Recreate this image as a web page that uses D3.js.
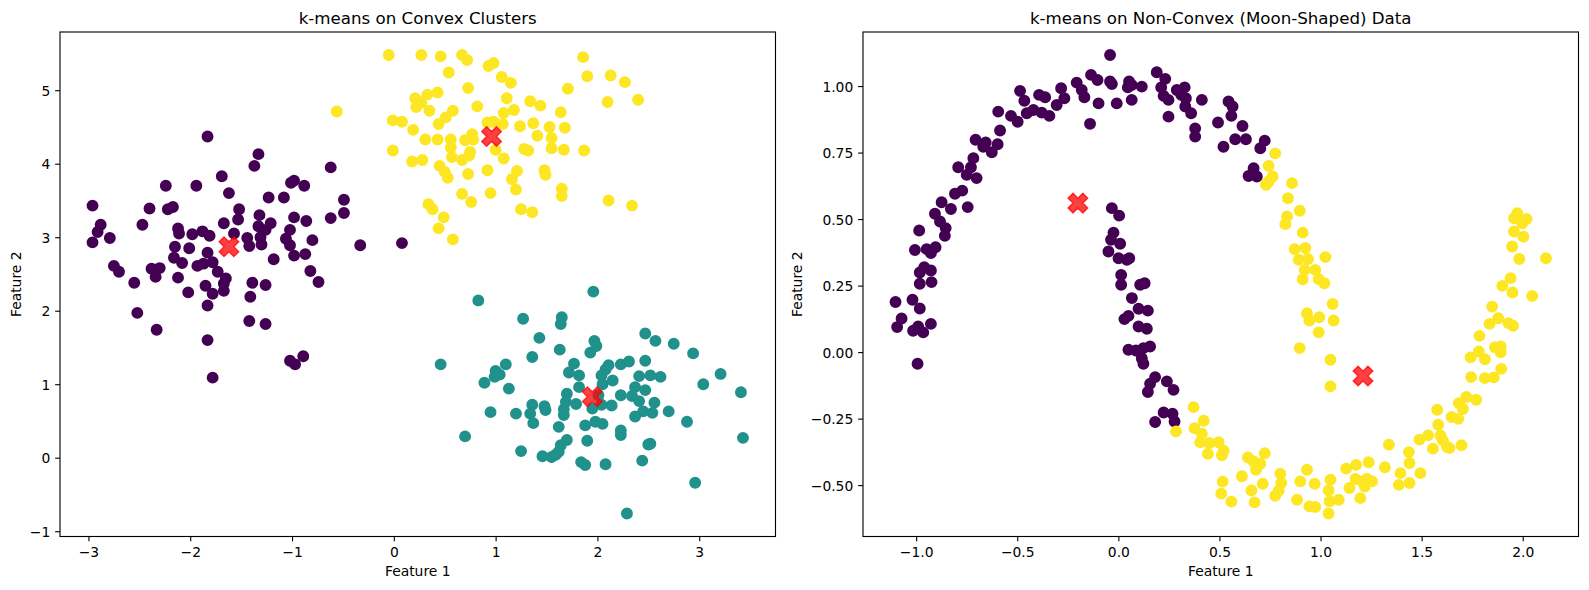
<!DOCTYPE html>
<html>
<head>
<meta charset="utf-8">
<script src="https://cdn.jsdelivr.net/npm/d3@7"></script>
<style>
  body { margin: 0; background: #fff; }
  svg { font-family: "DejaVu Sans", sans-serif; display: block; }
</style>
</head>
<body>
<div id="chart"></div>
<script>
// ---- left panel: three blobs (x, y) ----
const blobPurple = [
  [-1.83,4.37],[-1.33,4.13],[-1.37,3.97],[-0.62,3.95],[-1.69,3.83],[-2.24,3.70],[-1.94,3.70],[-0.98,3.77],
  [-1.01,3.74],[-0.88,3.70],[-1.62,3.60],[-1.23,3.54],[-1.08,3.54],[-2.96,3.43],[-2.40,3.39],[-2.22,3.38],
  [-2.17,3.41],[-0.49,3.51],[-1.52,3.38],[-1.32,3.30],[-1.53,3.24],[-0.98,3.27],[-0.86,3.22],[-0.62,3.26],
  [-0.49,3.33],[-2.88,3.17],[-2.91,3.07],[-2.47,3.17],[-2.12,3.12],[-2.11,3.05],[-1.67,3.19],[-1.21,3.19],
  [-1.33,3.15],[-1.26,3.10],[-1.02,3.10],[-2.79,2.99],[-2.96,2.93],[-1.98,3.04],[-1.88,3.08],[-1.81,3.02],
  [-1.57,3.05],[-1.44,2.99],[-1.31,3.00],[-1.06,2.98],[-0.80,2.96],[-0.33,2.89],[-2.15,2.87],[-2.01,2.85],
  [-1.83,2.79],[-1.42,2.88],[-1.30,2.90],[-1.02,2.89],[-0.98,2.75],[-0.87,2.77],[-2.16,2.72],[-2.08,2.65],
  [-1.93,2.61],[-1.87,2.64],[-1.78,2.66],[-1.18,2.70],[-2.75,2.61],[-2.70,2.53],[-2.38,2.57],[-2.30,2.58],
  [-2.34,2.46],[-2.12,2.45],[-1.73,2.53],[-1.65,2.44],[-0.82,2.54],[-2.55,2.38],[-1.85,2.34],[-1.67,2.37],
  [-1.39,2.38],[-1.26,2.35],[-0.74,2.39],[-2.02,2.25],[-1.78,2.23],[-1.67,2.27],[-1.41,2.19],[-1.83,2.07],
  [-2.52,1.97],[-1.42,1.86],[-1.26,1.82],[-2.33,1.74],[-1.83,1.60],[-1.02,1.32],[-0.97,1.27],[-0.89,1.38],
  [-1.78,1.09],[0.08,2.92]
];
const blobTeal = [
  [1.96,2.26],[0.83,2.14],[1.27,1.89],[1.65,1.91],[1.64,1.82],[1.43,1.63],[1.97,1.59],[1.99,1.52],
  [1.93,1.43],[2.47,1.69],[2.57,1.59],[2.75,1.55],[2.94,1.42],[1.63,1.47],[1.36,1.37],[0.46,1.27],
  [1.10,1.27],[1.00,1.18],[1.04,1.13],[0.99,1.10],[0.89,1.02],[1.13,0.94],[1.77,1.28],[1.72,1.16],
  [1.82,1.12],[2.11,1.26],[2.08,1.20],[2.04,1.12],[2.23,1.27],[2.31,1.31],[2.47,1.32],[2.41,1.11],
  [2.52,1.12],[2.62,1.10],[3.21,1.14],[3.04,1.00],[2.15,1.05],[2.05,1.00],[1.82,0.96],[2.37,0.96],
  [2.47,0.92],[1.70,0.87],[2.23,0.85],[2.34,0.84],[2.41,0.77],[2.56,0.75],[2.01,0.85],[1.69,0.76],
  [1.79,0.73],[2.14,0.71],[2.04,0.72],[1.95,0.67],[1.36,0.72],[1.48,0.70],[1.49,0.65],[1.67,0.66],
  [1.67,0.58],[0.95,0.62],[1.20,0.60],[1.34,0.60],[1.37,0.47],[2.45,0.63],[2.54,0.61],[2.37,0.56],
  [2.70,0.63],[2.88,0.49],[1.62,0.42],[1.88,0.44],[1.98,0.49],[2.05,0.46],[2.23,0.37],[2.23,0.31],
  [0.70,0.29],[1.70,0.24],[1.64,0.17],[1.90,0.23],[2.52,0.19],[2.50,0.18],[1.25,0.09],[1.46,0.02],
  [1.59,0.04],[1.55,0.01],[1.62,0.08],[1.84,-0.06],[1.88,-0.10],[2.08,-0.09],[2.44,-0.04],[2.96,-0.34],
  [2.29,-0.76],[3.41,0.89],[3.43,0.27]
];
const blobYellow = [
  [-0.05,5.48],[0.27,5.48],[0.46,5.46],[0.67,5.48],[0.72,5.41],[0.93,5.33],[0.98,5.37],[1.86,5.45],
  [0.54,5.24],[1.06,5.18],[1.15,5.10],[1.90,5.19],[2.13,5.20],[2.27,5.11],[0.73,5.03],[1.71,5.02],
  [0.21,4.89],[0.33,4.94],[0.43,4.97],[0.27,4.83],[0.22,4.77],[1.11,4.89],[1.34,4.85],[1.44,4.79],
  [2.10,4.84],[2.40,4.87],[0.82,4.78],[0.35,4.72],[0.58,4.72],[1.18,4.73],[1.08,4.69],[1.64,4.70],
  [0.51,4.63],[-0.01,4.59],[0.08,4.57],[0.44,4.54],[0.92,4.56],[0.98,4.57],[1.07,4.54],[1.37,4.55],
  [1.24,4.51],[1.53,4.50],[1.68,4.49],[0.19,4.46],[0.77,4.40],[0.31,4.33],[0.43,4.33],[0.56,4.33],
  [0.70,4.32],[0.78,4.33],[1.41,4.38],[1.55,4.35],[0.56,4.22],[-0.01,4.18],[1.00,4.19],[0.75,4.16],
  [1.28,4.20],[1.32,4.18],[1.55,4.21],[1.67,4.19],[1.87,4.18],[0.57,4.09],[0.67,4.05],[0.74,4.11],
  [0.18,4.03],[0.28,4.05],[1.08,4.07],[0.45,3.97],[0.50,3.89],[0.53,3.81],[0.73,3.86],[0.92,3.91],
  [1.21,3.90],[1.16,3.79],[1.48,3.91],[1.49,3.85],[1.20,3.65],[0.67,3.59],[0.95,3.60],[1.65,3.66],
  [1.65,3.56],[0.76,3.48],[0.34,3.45],[0.38,3.38],[1.25,3.38],[1.36,3.34],[2.11,3.50],[2.34,3.43],
  [0.49,3.27],[0.44,3.12],[0.58,2.97],[-0.56,4.71]
];
const blobCenters = [[-1.62,2.87],[0.96,4.37],[1.95,0.83]];

// ---- right panel: two moons ----
const moonPurple = [
  [-0.135,1.042],[-0.103,1.023],[-0.486,0.982],[-0.465,0.945],[-0.392,0.967],[-0.362,0.958],[-0.283,0.992],
  [-0.206,1.013],[-0.181,0.985],[-0.168,0.958],[-0.267,0.954],[-0.305,0.929],[-0.098,0.935],[-0.594,0.904],
  [-0.531,0.888],[-0.498,0.866],[-0.453,0.898],[-0.420,0.910],[-0.379,0.900],[-0.341,0.888],[-0.140,0.858],
  [-0.585,0.833],[-0.706,0.798],[-0.656,0.788],[-0.668,0.772],[-0.626,0.751],[-0.597,0.781],[-0.717,0.729],
  [-0.792,0.695],[-0.729,0.695],[-0.750,0.666],[-0.701,0.654],[-0.772,0.607],[-0.808,0.595],[-0.874,0.563],
  [-0.828,0.538],[-0.745,0.545],[-0.907,0.520],[-0.882,0.491],[-0.854,0.466],[-0.985,0.457],[-0.858,0.437],
  [-1.006,0.384],[-0.948,0.387],[-0.904,0.394],[-0.927,0.372],[-0.960,0.319],[-0.982,0.299],[-0.927,0.307],
  [-0.982,0.257],[-0.924,0.263],[-1.102,0.188],[-1.018,0.197],[-0.982,0.164],[-1.072,0.126],[-1.094,0.094],
  [-1.015,0.080],[-0.990,0.096],[-0.965,0.074],[-0.927,0.106],[-0.993,-0.044],
  [-0.041,1.117],[0.190,1.052],[0.232,1.027],[-0.041,1.017],[-0.032,1.008],[0.053,1.017],[0.066,1.004],
  [0.116,0.998],[0.047,0.995],[-0.008,0.935],[0.066,0.948],[0.212,0.995],[0.224,0.963],[0.248,0.948],
  [0.289,0.985],[0.328,0.995],[0.311,0.967],[0.334,0.954],[0.331,0.923],[0.360,0.898],[0.413,0.948],
  [0.248,0.885],[0.380,0.841],[0.380,0.810],[0.545,0.942],[0.565,0.923],[0.559,0.888],[0.493,0.863],
  [0.614,0.850],[0.578,0.800],[0.631,0.800],[0.520,0.772],[0.724,0.795],[0.702,0.766],[0.669,0.691],
  [0.644,0.662],[0.685,0.660],
  [-0.032,0.541],[0.004,0.513],[-0.024,0.449],[-0.036,0.422],[0.009,0.407],[-0.049,0.378],[0.001,0.353],
  [0.042,0.347],[0.054,0.353],[0.014,0.290],[0.014,0.253],[0.108,0.253],[0.130,0.259],
  [0.067,0.203],[0.100,0.163],[0.146,0.156],[0.030,0.124],[0.050,0.136],[0.100,0.096],[0.141,0.088],
  [0.050,0.009],[0.087,0.006],[0.124,0.015],[0.157,0.021],[0.116,-0.023],[0.124,-0.044],[0.182,-0.094],
  [0.157,-0.119],[0.146,-0.150],[0.240,-0.110],[0.273,-0.142],[0.224,-0.227],[0.268,-0.232],[0.278,-0.261],
  [0.182,-0.263]
];
const moonYellow = [
  [0.776,0.747],[0.743,0.700],[0.763,0.660],[0.743,0.641],[0.730,0.629],[0.859,0.635],[0.839,0.578],
  [0.897,0.531],[0.834,0.510],[0.826,0.481],[0.912,0.449],[0.872,0.387],[0.925,0.391],[0.892,0.347],
  [0.938,0.350],[0.922,0.309],[0.974,0.309],[0.912,0.274],[0.991,0.274],
  [0.285,-0.298],[0.372,-0.207],[0.422,-0.258],[0.377,-0.286],[0.413,-0.307],[0.405,-0.339],[0.450,-0.342],
  [0.496,-0.339],[0.521,-0.371],[0.512,-0.388],[0.443,-0.382],[0.641,-0.396],[0.669,-0.411],[0.702,-0.420],
  [0.681,-0.442],[0.724,-0.380],[0.611,-0.467],[0.516,-0.487],[0.509,-0.532],[0.559,-0.562],[0.658,-0.520],
  [0.714,-0.495],[0.674,-0.565],[0.801,-0.457],[0.806,-0.492],[0.793,-0.521],[0.776,-0.540],[0.884,-0.555],
  [0.900,-0.486],[0.933,-0.442],[0.971,-0.495],[0.945,-0.580],[0.974,-0.582],[1.049,-0.480],[1.040,-0.520],
  [1.045,-0.561],[1.040,-0.607],
  [0.933,0.146],[0.945,0.119],[0.994,0.131],[1.060,0.181],[1.065,0.119],[0.991,0.074],[0.897,0.015],
  [1.049,-0.029],[1.049,-0.129],
  [1.090,-0.555],[1.127,-0.438],[1.176,-0.424],[1.238,-0.414],[1.318,-0.433],[1.173,-0.477],[1.206,-0.486],
  [1.230,-0.477],[1.255,-0.486],[1.219,-0.505],[1.143,-0.511],[1.197,-0.549],[1.338,-0.348],[1.437,-0.376],
  [1.440,-0.417],[1.395,-0.455],[1.387,-0.499],[1.440,-0.492],[1.494,-0.455],[1.489,-0.329],[1.532,-0.313],
  [1.556,-0.363],[1.593,-0.313],[1.605,-0.332],[1.626,-0.357],[1.638,-0.361],[1.697,-0.350],[1.582,-0.273],
  [1.577,-0.217],[1.648,-0.244],[1.681,-0.251],[1.684,-0.192],[1.704,-0.214],[1.721,-0.169],[1.770,-0.179],
  [1.745,-0.094],[1.813,-0.098],[1.857,-0.095],[1.894,-0.063],[1.742,-0.020],[1.783,0.002],[1.813,-0.027],
  [1.863,0.018],[1.891,0.021],[1.891,-0.001],[1.786,0.061],[1.836,0.106],[1.879,0.127],[1.929,0.109],
  [1.952,0.099],[1.849,0.171],[1.949,0.224],[2.047,0.211],
  [1.973,0.522],[1.957,0.503],[2.019,0.500],[1.998,0.484],[1.957,0.453],[2.003,0.434],[1.948,0.397],
  [1.983,0.350],[1.940,0.278],[1.899,0.249],[1.024,0.357],[1.019,0.259],[2.115,0.353]
];
const moonCenters = [[-0.20,0.56],[1.21,-0.09]];

const leftXTicks = [-3, -2, -1, 0, 1, 2, 3];
const leftYTicks = [-1, 0, 1, 2, 3, 4, 5];
const rightXTicks = [-1.0, -0.5, 0.0, 0.5, 1.0, 1.5, 2.0];
const rightYTicks = [-0.5, -0.25, 0.0, 0.25, 0.5, 0.75, 1.0];

// viridis ends + middle
const PURPLE = "#440154", TEAL = "#21918c", YELLOW = "#fde725";

const PX = 100 / 72;          // points -> pixels at 100 dpi
const W = 1589, H = 590;

const svg = d3.select("#chart").append("svg")
    .attr("width", W)
    .attr("height", H);

// matplotlib style autoscale: data extent plus 5% each side
function padded(vals) {
  const [lo, hi] = d3.extent(vals);
  const m = (hi - lo) * 0.05;
  return [lo - m, hi + m];
}

// filled 'X' marker from matplotlib, unit size
const xMarker = [[-1,-2],[0,-1],[1,-2],[2,-1],[1,0],[2,1],[1,2],[0,1],[-1,2],[-2,1],[-1,0],[-2,-1]];

function drawPanel(opt) {
  const {left, right, top, bottom} = opt.box;
  const all = opt.groups.flatMap(g => g.pts).concat(opt.centers);

  const x = d3.scaleLinear().domain(padded(all.map(d => d[0]))).range([left, right]);
  const y = d3.scaleLinear().domain(padded(all.map(d => d[1]))).range([bottom, top]);

  const tickLen = 3.5 * PX, tickPad = 3.5 * PX, fs = 10 * PX;

  // x axis
  const gx = svg.append("g")
      .attr("transform", `translate(0,${bottom})`)
      .call(d3.axisBottom(x).tickValues(opt.xTicks).tickFormat(d3.format(opt.xFmt))
        .tickSize(tickLen).tickPadding(tickPad).tickSizeOuter(0));
  gx.select(".domain").remove();
  gx.selectAll("line").attr("stroke", "#000").attr("stroke-width", 0.8 * PX);
  gx.selectAll("text").attr("font-size", fs).attr("fill", "#000")
      .attr("font-family", "DejaVu Sans").attr("dy", "0.76em");

  // y axis
  const gy = svg.append("g")
      .attr("transform", `translate(${left},0)`)
      .call(d3.axisLeft(y).tickValues(opt.yTicks).tickFormat(d3.format(opt.yFmt))
        .tickSize(tickLen).tickPadding(tickPad).tickSizeOuter(0));
  gy.select(".domain").remove();
  gy.selectAll("line").attr("stroke", "#000").attr("stroke-width", 0.8 * PX);
  gy.selectAll("text").attr("font-size", fs).attr("fill", "#000")
      .attr("font-family", "DejaVu Sans").attr("dy", "0.36em");

  // points, one colour per cluster
  const plot = svg.append("g");
  opt.groups.forEach(g => {
    plot.append("g").selectAll("circle")
      .data(g.pts)
      .join("circle")
      .attr("cx", d => x(d[0]))
      .attr("cy", d => y(d[1]))
      .attr("r", Math.sqrt(50) * PX / 2)
      .attr("fill", g.color)
      .attr("stroke", g.color)
      .attr("stroke-width", 1.5 * PX);
  });

  // centroids as red X
  const size = Math.sqrt(200) * PX;
  const xPath = d3.line()(xMarker.map(p => [p[0] * size / 4, p[1] * size / 4])) + "Z";
  plot.append("g").selectAll("path")
    .data(opt.centers)
    .join("path")
    .attr("d", xPath)
    .attr("transform", d => `translate(${x(d[0])},${y(d[1])})`)
    .attr("fill", "red")
    .attr("fill-opacity", 0.75)
    .attr("stroke", "red")
    .attr("stroke-opacity", 0.75)
    .attr("stroke-width", 1.0 * PX);

  // spines
  svg.append("rect")
    .attr("x", left).attr("y", top)
    .attr("width", right - left).attr("height", bottom - top)
    .attr("fill", "none").attr("stroke", "#000").attr("stroke-width", 0.8 * PX);

  // title
  svg.append("text")
    .attr("x", (left + right) / 2).attr("y", top - 6 * PX)
    .attr("text-anchor", "middle").attr("font-size", 12 * PX)
    .text(opt.title);

  // x label sits under the tick labels
  const tickBottom = bottom + tickLen + tickPad + fs;
  svg.append("text")
    .attr("x", (left + right) / 2).attr("y", tickBottom + 4 * PX + 0.76 * fs)
    .attr("text-anchor", "middle").attr("font-size", fs)
    .text("Feature 1");

  // y label: left of the widest tick label
  let wMax = 0;
  gy.selectAll("text").each(function() { wMax = Math.max(wMax, this.getComputedTextLength()); });
  const labelRight = left - tickLen - tickPad - wMax - 4 * PX;
  const bx = labelRight - 0.236 * fs;
  svg.append("text")
    .attr("transform", `translate(${bx},${(top + bottom) / 2}) rotate(-90)`)
    .attr("text-anchor", "middle").attr("font-size", fs)
    .text("Feature 2");
}

drawPanel({
  box: {left: 60, right: 775.5, top: 32, bottom: 536.5},
  groups: [
    {pts: blobPurple, color: PURPLE},
    {pts: blobTeal, color: TEAL},
    {pts: blobYellow, color: YELLOW}
  ],
  centers: blobCenters,
  xTicks: leftXTicks, yTicks: leftYTicks,
  xFmt: "d", yFmt: "d",
  title: "k-means on Convex Clusters"
});

drawPanel({
  box: {left: 863, right: 1578.5, top: 32, bottom: 536.5},
  groups: [
    {pts: moonPurple, color: PURPLE},
    {pts: moonYellow, color: YELLOW}
  ],
  centers: moonCenters,
  xTicks: rightXTicks, yTicks: rightYTicks,
  xFmt: ".1f", yFmt: ".2f",
  title: "k-means on Non-Convex (Moon-Shaped) Data"
});
</script>
</body>
</html>
